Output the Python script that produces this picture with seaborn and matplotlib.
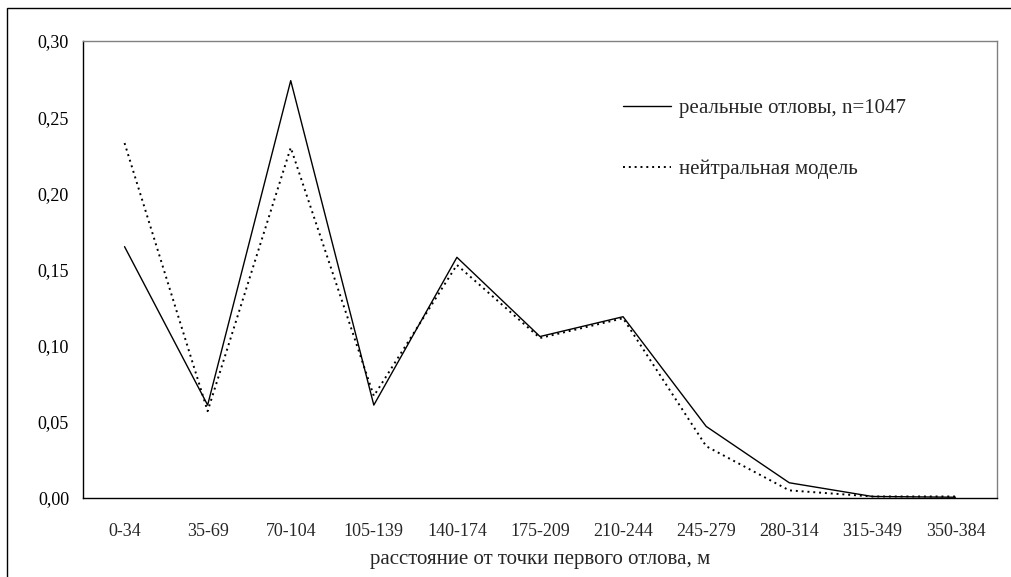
import numpy as np
import pandas as pd
import matplotlib
matplotlib.use("Agg")
import matplotlib.pyplot as plt
import seaborn as sns
from matplotlib.patches import Rectangle
from matplotlib.ticker import FuncFormatter, FixedLocator

# distance classes, m
categories = ["0-34", "35-69", "70-104", "105-139", "140-174", "175-209",
              "210-244", "245-279", "280-314", "315-349", "350-384"]
# observed recaptures (n=1047)
real = [0.165, 0.061, 0.274, 0.061, 0.158, 0.106, 0.119, 0.047, 0.010, 0.001, 0.0005]
# neutral model
neutral = [0.233, 0.057, 0.230, 0.067, 0.153, 0.105, 0.118, 0.034, 0.005, 0.001, 0.001]

label_real = "реальные отловы, n=1047"
label_neutral = "нейтральная модель"

sns.set_style("white")
plt.rcParams["font.family"] = ["Liberation Serif", "DejaVu Serif"]

df = pd.DataFrame({"cat": categories, "x": np.arange(len(categories)),
                   "real": real, "neutral": neutral})

fig = plt.figure(figsize=(10.12, 5.77), dpi=100)
ax = fig.add_axes([83 / 1012, 1 - 498 / 577, (997 - 83) / 1012, (498 - 41) / 577])

sns.lineplot(data=df, x="x", y="real", ax=ax, color="black", linewidth=1.0,
             label=label_real)
sns.lineplot(data=df, x="x", y="neutral", ax=ax, color="black", linewidth=1.4,
             linestyle=(0, (1, 2)), label=label_neutral)

ax.set_xlim(-0.5, len(categories) - 0.5)
ax.set_ylim(0, 0.30)
ax.set_yticks(np.arange(0, 0.301, 0.05))
ax.yaxis.set_major_formatter(FuncFormatter(lambda v, p: f"{v:.2f}".replace(".", ",")))

# category labels at centres, tick marks at bin boundaries
ax.xaxis.set_major_locator(FixedLocator(np.arange(-0.5, len(categories), 1.0)))
ax.xaxis.set_major_formatter(FuncFormatter(lambda v, p: ""))
ax.xaxis.set_minor_locator(FixedLocator(np.arange(len(categories))))
ax.set_xticklabels(categories, minor=True)
ax.tick_params(axis="x", which="minor", length=0, pad=18)
ax.tick_params(axis="x", which="major", length=5, width=0.8, direction="out")
ax.tick_params(axis="y", length=5, width=0.8, direction="out", pad=5)
ax.tick_params(labelsize=13, colors="black")
for lab in ax.get_xticklabels(minor=True):
    lab.set_fontsize(13)

ax.set_xlabel("расстояние от точки первого отлова, м", fontsize=15, labelpad=7)
ax.set_ylabel("")

for side in ["left", "bottom"]:
    ax.spines[side].set_color("black")
    ax.spines[side].set_linewidth(1.0)
for side in ["top", "right"]:
    ax.spines[side].set_color("#808080")
    ax.spines[side].set_linewidth(1.0)
    ax.spines[side].set_visible(True)

leg = ax.legend(loc="upper left", bbox_to_anchor=(0.570, 0.915), frameon=False,
                fontsize=15, handlelength=2.3, handletextpad=0.4, labelspacing=1.98)

# outer chart frame
fig.patches.append(Rectangle((7 / 1012, -0.05), 1.1, 1 - 8 / 577 + 0.05,
                             transform=fig.transFigure, fill=False,
                             edgecolor="black", linewidth=1.0))

fig.savefig("out.png", dpi=100)
